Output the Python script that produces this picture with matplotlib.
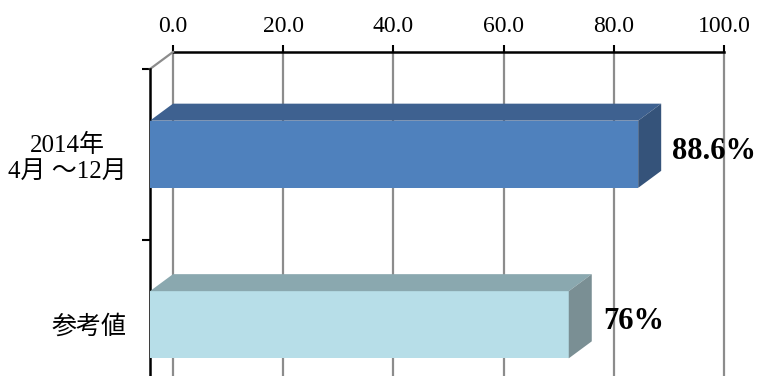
import matplotlib
matplotlib.use('Agg')
import matplotlib.pyplot as plt
from matplotlib.patches import Polygon

# ---- data ----
categories = ['2014年\n4月 ～12月', '参考値']
values = [88.6, 76]
value_labels = ['88.6%', '76%']
xticks = [0, 20, 40, 60, 80, 100]
xtick_labels = ['0.0', '20.0', '40.0', '60.0', '80.0', '100.0']

# ---- styles ----
front_colors = ['#4F81BD', '#B7DEE8']
top_colors = ['#3E6190', '#8AA8AF']
side_colors = ['#35537A', '#7A8F94']
grid_color = '#8C8C8C'
serif = ['Liberation Serif', 'Noto Sans CJK JP']

W, H = 761, 376
fig = plt.figure(figsize=(W / 100, H / 100), dpi=100)


def rect(l, t, r, b):
    return [l / W, 1 - b / H, (r - l) / W, (b - t) / H]


# depth of the 3D box in pixels
DX_PX, DY_PX = 23, 17

# back wall axes (gridlines + top value axis)
ax_back = fig.add_axes(rect(173, 52, 724, 393), zorder=1)
ax_back.set_xlim(0, 100)
ax_back.set_ylim(0, 1)
for s in ['left', 'right', 'bottom']:
    ax_back.spines[s].set_visible(False)
ax_back.spines['top'].set_linewidth(1.8)
ax_back.spines['top'].set_color('black')
ax_back.xaxis.set_ticks_position('top')
ax_back.xaxis.set_label_position('top')
ax_back.set_xticks(xticks)
ax_back.set_xticklabels(xtick_labels, fontsize=17, family=serif)
ax_back.tick_params(axis='x', direction='out', length=5, width=1.5, pad=6, colors='black')
ax_back.set_yticks([])
ax_back.grid(axis='x', color=grid_color, linewidth=1.6)
for gl in ax_back.get_xgridlines():
    gl.set_clip_on(False)
ax_back.set_axisbelow(True)

# front axes (bars + category axis)
ax = fig.add_axes(rect(150, 69, 701, 410), zorder=2)
ax.patch.set_alpha(0)
ax.set_xlim(0, 100)
ax.set_ylim(1.5, -0.5)
for s in ['top', 'right', 'bottom']:
    ax.spines[s].set_visible(False)
ax.spines['left'].set_linewidth(1.8)
ax.spines['left'].set_color('black')
ax.set_xticks([])
ypos = list(range(len(categories)))
ax.set_yticks([-0.5, 0.5, 1.5])
ax.set_yticklabels([])
ax.tick_params(axis='y', which='major', direction='out', length=6, width=1.5, colors='black')
ax.set_yticks(ypos, minor=True)
ax.set_yticklabels(categories, minor=True, fontsize=18, family=serif,
                   linespacing=1.2, multialignment='center')
ax.tick_params(axis='y', which='minor', length=0, pad=17)

# conversion of depth into data units
bbox = ax.get_position()
ax_w_px = bbox.width * W
ax_h_px = bbox.height * H
dxd = DX_PX * 100 / ax_w_px
dyd = -DY_PX * 2.0 / ax_h_px

bar_h = 0.394
ax.barh(ypos, values, height=bar_h, color=front_colors, zorder=3)
for i, v in enumerate(values):
    yt = i - bar_h / 2
    yb = i + bar_h / 2
    top = Polygon([(0, yt), (v, yt), (v + dxd, yt + dyd), (dxd, yt + dyd)],
                  closed=True, facecolor=top_colors[i], edgecolor='none',
                  zorder=3, clip_on=False)
    side = Polygon([(v, yt), (v, yb), (v + dxd, yb + dyd), (v + dxd, yt + dyd)],
                   closed=True, facecolor=side_colors[i], edgecolor='none',
                   zorder=3, clip_on=False)
    ax.add_patch(top)
    ax.add_patch(side)
    ax.annotate(value_labels[i], xy=(v + dxd, i), xytext=(8, 2),
                textcoords='offset points', ha='left', va='center',
                fontsize=22, fontweight='bold', family=serif, zorder=5)

# top edge of left wall
ax.plot([0, dxd], [-0.5, -0.5 + dyd], color=grid_color, linewidth=1.6,
        clip_on=False, zorder=2)

fig.savefig('out.png', dpi=100)
